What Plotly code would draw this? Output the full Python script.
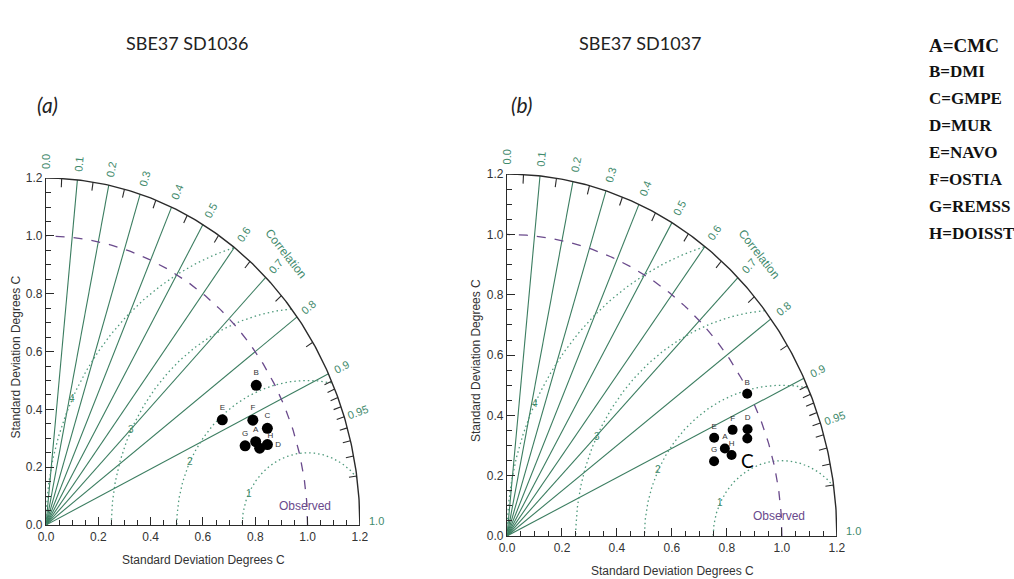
import numpy as np
import plotly.graph_objects as go

# ---------------- data ----------------
labels = ["A", "B", "C", "D", "E", "F", "G", "H"]
products = ["CMC", "DMI", "GMPE", "MUR", "NAVO", "OSTIA", "REMSS", "DOISST"]

# panel (a) SBE37 SD1036 : standard deviation and correlation of each product
std_a = [0.852, 0.938, 0.910, 0.891, 0.766, 0.870, 0.809, 0.859]
corr_a = [0.941, 0.857, 0.930, 0.950, 0.880, 0.909, 0.941, 0.951]
# panel (b) SBE37 SD1037
std_b = [0.844, 0.993, 0.932, 0.944, 0.821, 0.893, 0.793, 0.860]
corr_b = [0.939, 0.880, 0.938, 0.927, 0.918, 0.919, 0.950, 0.950]

corr_major = [0.0, 0.1, 0.2, 0.3, 0.4, 0.5, 0.6, 0.7, 0.8, 0.9, 0.95, 1.0]
corr_major_labels = ["0.0", "0.1", "0.2", "0.3", "0.4", "0.5", "0.6", "0.7",
                     "0.8", "0.9", "0.95", "1.0"]
corr_lines = [0.1, 0.2, 0.3, 0.4, 0.5, 0.6, 0.7, 0.8, 0.9]
corr_minor = [0.05, 0.15, 0.25, 0.35, 0.45, 0.55, 0.65, 0.75, 0.85,
              0.91, 0.92, 0.93, 0.94, 0.95, 0.96, 0.97, 0.98, 0.99]
rms_radii = [0.25, 0.5, 0.75, 1.0]
rms_labels = ["1", "2", "3", "4"]
sd_max = 1.2
sd_obs = 1.0

titles = ["SBE37 SD1036", "SBE37 SD1037"]
tags = ["(a)", "(b)"]

# ---------------- styling / layout (pixels) ----------------
W, H = 1014, 579
panels = [dict(x0=46, x1=360, y0=525, y1=178, xa="x", ya="y"),
          dict(x0=507, x1=837, y0=536, y1=174, xa="x2", ya="y2")]
GREEN = "#3b7d60"
GREEN_T = "#3f8a6c"
DOT = "#4f9a7c"
PURPLE = "#6a4a8c"
DARK = "#2a2a2a"
TICKFONT = "Liberation Sans Narrow, Liberation Sans, Arial"

fig = go.Figure()
annotations = []


def px2paper(x, y):
    return x / W, 1 - y / H


def data2paper(i, x, y):
    p = panels[i]
    px = p["x0"] + (p["x1"] - p["x0"]) * x / sd_max
    py = p["y0"] - (p["y0"] - p["y1"]) * y / sd_max
    return px2paper(px, py)


def paper_note(a, b, text, **kw):
    d = dict(x=a, y=b, xref="paper", yref="paper", text=text, showarrow=False,
             xanchor="center", yanchor="middle")
    d.update(kw)
    annotations.append(d)


def add_panel(i, std, corr):
    p = panels[i]
    xa, ya = p["xa"], p["ya"]
    sx = (p["x1"] - p["x0"]) / sd_max
    sy = (p["y0"] - p["y1"]) / sd_max

    def note(x, y, text, **kw):
        a, b = data2paper(i, x, y)
        paper_note(a, b, text, **kw)

    # radial correlation lines
    lx, ly = [], []
    for c in corr_lines:
        s = np.sqrt(1 - c * c)
        lx += [0, sd_max * c, None]
        ly += [0, sd_max * s, None]
    fig.add_trace(go.Scatter(x=lx, y=ly, mode="lines", xaxis=xa, yaxis=ya,
                             line=dict(color=GREEN, width=1.1), hoverinfo="skip"))

    # RMS dotted arcs centred on observed point
    for r, lab in zip(rms_radii, rms_labels):
        phi = np.linspace(0, np.pi, 400)
        ax = sd_obs + r * np.cos(phi)
        ay = r * np.sin(phi)
        keep = (ax >= 0) & (np.hypot(ax, ay) <= sd_max)
        ax = np.where(keep, ax, np.nan)
        ay = np.where(keep, ay, np.nan)
        fig.add_trace(go.Scatter(x=ax, y=ay, mode="lines", xaxis=xa, yaxis=ya,
                                 connectgaps=False,
                                 line=dict(color=DOT, width=1.3, dash="1.5px,3px"),
                                 hoverinfo="skip"))
        ang = np.deg2rad(154)
        note(sd_obs + r * np.cos(ang), r * np.sin(ang), lab,
             font=dict(size=10, color=GREEN_T, family=TICKFONT))

    # observed dashed arc
    th = np.linspace(0, np.pi / 2, 200)
    fig.add_trace(go.Scatter(x=sd_obs * np.cos(th), y=sd_obs * np.sin(th), mode="lines",
                             xaxis=xa, yaxis=ya,
                             line=dict(color=PURPLE, width=1.3, dash="dash"),
                             hoverinfo="skip"))

    # outer arc
    fig.add_trace(go.Scatter(x=sd_max * np.cos(th), y=sd_max * np.sin(th), mode="lines",
                             xaxis=xa, yaxis=ya, line=dict(color=DARK, width=1.4),
                             hoverinfo="skip"))
    # ticks on outer arc
    tx, ty = [], []
    for c in corr_minor:
        s = np.sqrt(1 - c * c)
        tx += [sd_max * c, (sd_max - 0.03) * c, None]
        ty += [sd_max * s, (sd_max - 0.03) * s, None]
    fig.add_trace(go.Scatter(x=tx, y=ty, mode="lines", xaxis=xa, yaxis=ya,
                             line=dict(color=DARK, width=1.1), hoverinfo="skip"))

    # correlation labels
    for c, lab in zip(corr_major, corr_major_labels):
        s = np.sqrt(1 - c * c)
        if c == 1.0:
            note(sd_max + 0.025, 0.015, lab, xanchor="left",
                 font=dict(size=11, color=GREEN_T, family=TICKFONT))
            continue
        rr = sd_max + 0.055
        angp = np.degrees(np.arctan2(s * sy, c * sx))
        note(rr * c, rr * s, lab, textangle=-angp,
             font=dict(size=11, color=GREEN_T, family=TICKFONT))
    c = 0.70
    s = np.sqrt(1 - c * c)
    note(1.31 * c, 1.31 * s, "Correlation", textangle=52,
         font=dict(size=12, color=GREEN_T, family=TICKFONT))
    note(0.99, 0.065, "Observed", font=dict(size=12, color=PURPLE, family=TICKFONT))

    # data points
    xs = [sd * cr for sd, cr in zip(std, corr)]
    ys = [sd * np.sqrt(1 - cr * cr) for sd, cr in zip(std, corr)]
    texts = list(labels)
    pos = ["top center"] * len(labels)
    if i == 0:
        pos[labels.index("H")] = "top right"
        pos[labels.index("D")] = "middle right"
    if i == 1:
        texts[labels.index("C")] = ""
    fig.add_trace(go.Scatter(x=xs, y=ys, mode="markers+text", xaxis=xa, yaxis=ya,
                             text=texts, textposition=pos,
                             textfont=dict(size=8, color="#333", family=TICKFONT),
                             marker=dict(size=11 if i == 0 else 10, color="black"),
                             customdata=products, cliponaxis=False,
                             hovertemplate="%{customdata}<extra></extra>"))
    if i == 1:
        k = labels.index("C")
        note(xs[k], ys[k] - 0.072, "C",
             font=dict(size=19, color="black", family="Lato, Open Sans"))

    # axis titles
    cx = (p["x0"] + p["x1"]) / 2
    a, b = px2paper(cx, p["y0"] + 35)
    paper_note(a, b, "Standard Deviation Degrees C",
               font=dict(size=12, color="#333", family=TICKFONT))
    a, b = px2paper(p["x0"] - 31, (p["y0"] + p["y1"]) / 2 + 6)
    paper_note(a, b, "Standard Deviation Degrees C", textangle=-90,
               font=dict(size=12, color="#333", family=TICKFONT))

    # axes
    dom_x = [p["x0"] / W, p["x1"] / W]
    dom_y = [1 - p["y0"] / H, 1 - p["y1"] / H]
    axis_common = dict(range=[0, sd_max + 0.0005], showgrid=False, zeroline=False,
                       showline=True, linecolor=DARK, linewidth=1.3, automargin=False,
                       ticks="inside", ticklen=8, tickcolor=DARK, tickwidth=1.1,
                       tickmode="linear", tick0=0, dtick=0.2, tickformat=".1f",
                       minor=dict(ticks="inside", dtick=0.05, ticklen=5,
                                  tickcolor=DARK, tickwidth=1),
                       tickfont=dict(size=12, color="#333", family=TICKFONT),
                       fixedrange=True)
    xname = "xaxis" if i == 0 else "xaxis2"
    yname = "yaxis" if i == 0 else "yaxis2"
    fig.update_layout(**{xname: dict(domain=dom_x, anchor=ya, **axis_common),
                         yname: dict(domain=dom_y, anchor=xa, **axis_common)})


add_panel(0, std_a, corr_a)
add_panel(1, std_b, corr_b)

# titles and tags
for (tx, ty), t in zip([(187, 43), (640, 43)], titles):
    a, b = px2paper(tx, ty)
    paper_note(a, b, t, font=dict(size=18, color="#222", family="Lato, Open Sans"))
for (tx, ty), t in zip([(47, 105), (521, 105)], tags):
    a, b = px2paper(tx, ty)
    paper_note(a, b, "<i>" + t + "</i>",
               font=dict(size=21, color="#222", family="Lato, Open Sans"))

# product key
for k, (lab, prod) in enumerate(zip(labels, products)):
    a, b = px2paper(927, 45 + 26.9 * k)
    paper_note(a, b, "<b>%s=%s</b>" % (lab, prod), xanchor="left",
               font=dict(size=19 if k == 0 else 17, color="#111",
                         family="Liberation Serif, Times New Roman"))

fig.update_layout(width=W, height=H, margin=dict(l=0, r=0, t=0, b=0, autoexpand=False),
                  paper_bgcolor="white", plot_bgcolor="white", showlegend=False,
                  annotations=annotations)

fig.write_html("out.html", config={"displayModeBar": False},
               post_script="document.body.style.margin='0';")
